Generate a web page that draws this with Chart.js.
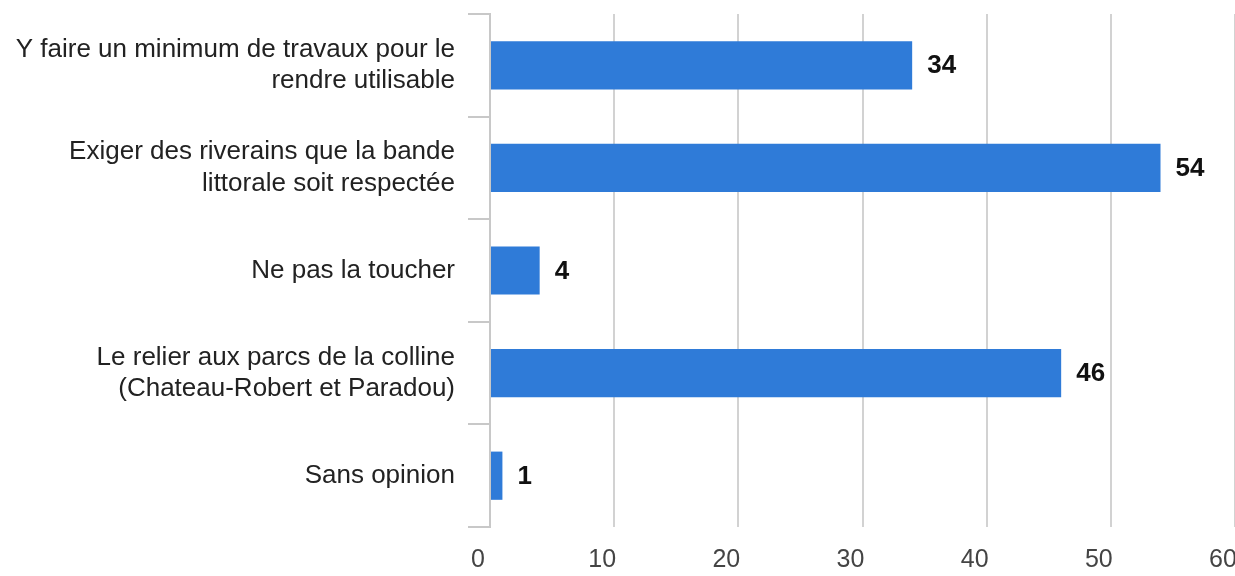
<!DOCTYPE html>
<html>
<head>
<meta charset="utf-8">
<script src="https://cdn.jsdelivr.net/npm/chart.js@4"></script>
<style>
  html, body { margin: 0; padding: 0; background: #fff; }
  #wrap { width: 1235px; height: 576px; position: relative; }
</style>
</head>
<body>
<div id="wrap"><canvas id="chart"></canvas></div>
<script>
// données
const categories = [
  ['Y faire un minimum de travaux pour le', 'rendre utilisable'],
  ['Exiger des riverains que la bande', 'littorale soit respectée'],
  'Ne pas la toucher',
  ['Le relier aux parcs de la colline', '(Chateau-Robert et Paradou)'],
  'Sans opinion'
];
const values = [34, 54, 4, 46, 1];
const xTicks = [0, 10, 20, 30, 40, 50, 60];

const FONT = '"Liberation Sans", Arial, sans-serif';

/* étiquettes de valeur à droite des barres */
const valueLabels = {
  id: 'valueLabels',
  afterDatasetsDraw(chart) {
    const { ctx } = chart;
    const meta = chart.getDatasetMeta(0);
    ctx.save();
    ctx.font = `bold 26px ${FONT}`;
    ctx.fillStyle = '#111';
    ctx.textAlign = 'left';
    ctx.textBaseline = 'middle';
    meta.data.forEach((bar, i) => {
      ctx.fillText(String(values[i]), bar.x + 15, bar.y + 1);
    });
    ctx.restore();
  }
};

new Chart(document.getElementById('chart').getContext('2d'), {
  type: 'bar',
  data: {
    labels: categories,
    datasets: [{
      data: values,
      backgroundColor: '#2f7bd8',
      borderWidth: 0,
      categoryPercentage: 0.47,
      barPercentage: 1
    }]
  },
  options: {
    indexAxis: 'y',
    responsive: true,
    maintainAspectRatio: false,
    animation: false,
    layout: { padding: { top: 14, right: 0, bottom: 0, left: 0 } },
    plugins: {
      legend: { display: false },
      tooltip: { enabled: false }
    },
    scales: {
      x: {
        min: 0,
        max: 60,
        afterBuildTicks: (scale) => { scale.ticks = xTicks.map(v => ({ value: v })); },
        afterFit: (scale) => {
          scale.height = 49;
          scale.paddingLeft = 0;
          scale.paddingRight = 0;
        },
        grid: { color: '#d2d2d2', lineWidth: 2, drawTicks: false },
        border: { display: false },
        ticks: {
          color: '#444',
          font: { family: FONT, size: 25 },
          padding: 18,
          labelOffset: -12
        }
      },
      y: {
        afterFit: (scale) => {
          scale.width = 490;
          scale.paddingTop = 0;
          scale.paddingBottom = 0;
        },
        grid: {
          offset: true,
          drawOnChartArea: false,
          drawTicks: true,
          tickLength: 22,
          color: '#c8c8c8',
          lineWidth: 2
        },
        border: { display: true, color: '#c8c8c8', width: 2 },
        ticks: {
          color: '#222',
          font: { family: FONT, size: 26, lineHeight: 1.2 },
          padding: 13
        }
      }
    }
  },
  plugins: [valueLabels]
});
</script>
</body>
</html>
